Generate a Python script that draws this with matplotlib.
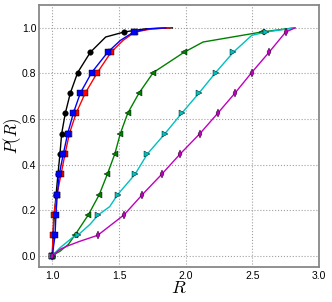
import matplotlib
matplotlib.use("Agg")
import matplotlib.pyplot as plt

plt.rcParams['mathtext.fontset'] = 'cm'
plt.rcParams['font.family'] = ['Liberation Sans', 'DejaVu Sans']

# curves: R values and cumulative fraction P(R)
black_r = [1.0, 1.005, 1.015, 1.028, 1.042, 1.057, 1.07, 1.097, 1.135, 1.19, 1.285, 1.40, 1.538, 1.70, 1.90]
black_p = [0.0, 0.089, 0.179, 0.268, 0.357, 0.446, 0.536, 0.625, 0.714, 0.804, 0.893, 0.96, 0.982, 0.996, 1.0]
black_marks = [0, 1, 2, 3, 4, 5, 6, 7, 8, 9, 10, 12]

red_r = [1.0, 1.005, 1.01, 1.035, 1.065, 1.095, 1.128, 1.178, 1.247, 1.338, 1.44, 1.53, 1.62, 1.75, 1.88]
red_p = [0.0, 0.089, 0.179, 0.268, 0.357, 0.446, 0.536, 0.625, 0.714, 0.804, 0.893, 0.945, 0.982, 0.996, 1.0]
red_marks = [0, 1, 2, 3, 4, 5, 6, 7, 8, 9, 10, 12]

blue_r = [1.0, 1.02, 1.027, 1.037, 1.052, 1.082, 1.115, 1.157, 1.21, 1.295, 1.415, 1.51, 1.61, 1.72, 1.85]
blue_p = [0.0, 0.089, 0.179, 0.268, 0.357, 0.446, 0.536, 0.625, 0.714, 0.804, 0.893, 0.945, 0.982, 0.996, 1.0]
blue_marks = [0, 1, 2, 3, 4, 5, 6, 7, 8, 9, 10, 12]

green_r = [1.0, 1.057, 1.12, 1.168, 1.27, 1.352, 1.412, 1.468, 1.51, 1.565, 1.65, 1.757, 1.988, 2.13, 2.57, 2.81]
green_p = [0.0, 0.019, 0.049, 0.089, 0.179, 0.268, 0.357, 0.446, 0.536, 0.625, 0.714, 0.804, 0.893, 0.938, 0.982, 1.0]
green_marks = [0, 3, 4, 5, 6, 7, 8, 9, 10, 11, 12, 14]

cyan_r = [1.0, 1.057, 1.157, 1.19, 1.282, 1.345, 1.43, 1.49, 1.62, 1.712, 1.845, 1.97, 2.10, 2.225, 2.357, 2.495, 2.60, 2.82]
cyan_p = [0.0, 0.034, 0.082, 0.089, 0.137, 0.179, 0.215, 0.268, 0.357, 0.446, 0.536, 0.625, 0.714, 0.804, 0.893, 0.967, 0.982, 1.0]
cyan_marks = [0, 3, 5, 7, 8, 9, 10, 11, 12, 13, 14, 16]

magenta_r = [1.0, 1.06, 1.108, 1.207, 1.34, 1.538, 1.675, 1.82, 1.958, 2.107, 2.24, 2.37, 2.495, 2.625, 2.75, 2.82]
magenta_p = [0.0, 0.028, 0.041, 0.063, 0.089, 0.179, 0.268, 0.357, 0.446, 0.536, 0.625, 0.714, 0.804, 0.893, 0.982, 1.0]
magenta_marks = [0, 4, 5, 6, 7, 8, 9, 10, 11, 12, 13, 14]

fig = plt.figure(figsize=(3.32, 3.02), dpi=100)
ax = fig.add_axes([0.1175, 0.116, 0.8435, 0.867])

series = [
    (black_r, black_p, black_marks, 'k', 'o'),
    (red_r, red_p, red_marks, 'r', 's'),
    (blue_r, blue_p, blue_marks, 'b', 's'),
    (green_r, green_p, green_marks, 'g', '<'),
    (cyan_r, cyan_p, cyan_marks, 'c', '>'),
    (magenta_r, magenta_p, magenta_marks, 'm', 'd'),
]
for r, p, marks, col, mk in series:
    ax.plot(r, p, color=col, lw=1.0, marker=mk, markevery=marks,
            markersize=4, markeredgecolor='k', markeredgewidth=0.3)

ax.set_xlim(0.9, 3.0)
ax.set_ylim(-0.05, 1.1)
ax.set_xticks([1.0, 1.5, 2.0, 2.5, 3.0])
ax.set_yticks([0.0, 0.2, 0.4, 0.6, 0.8, 1.0])
ax.tick_params(axis='x', length=0, labelsize=7.5, pad=3)
ax.tick_params(axis='y', length=0, labelsize=7.5, pad=2)
ax.grid(True, linestyle=':', color='#a0a0a0', lw=0.8)
for s in ax.spines.values():
    s.set_color('#888888')
    s.set_linewidth(1.3)

ax.set_xlabel(r'$R$', fontsize=13, labelpad=-1)
ax.set_ylabel(r'$P(R)$', fontsize=12, labelpad=-1.5)

fig.savefig('out.png', dpi=100)
